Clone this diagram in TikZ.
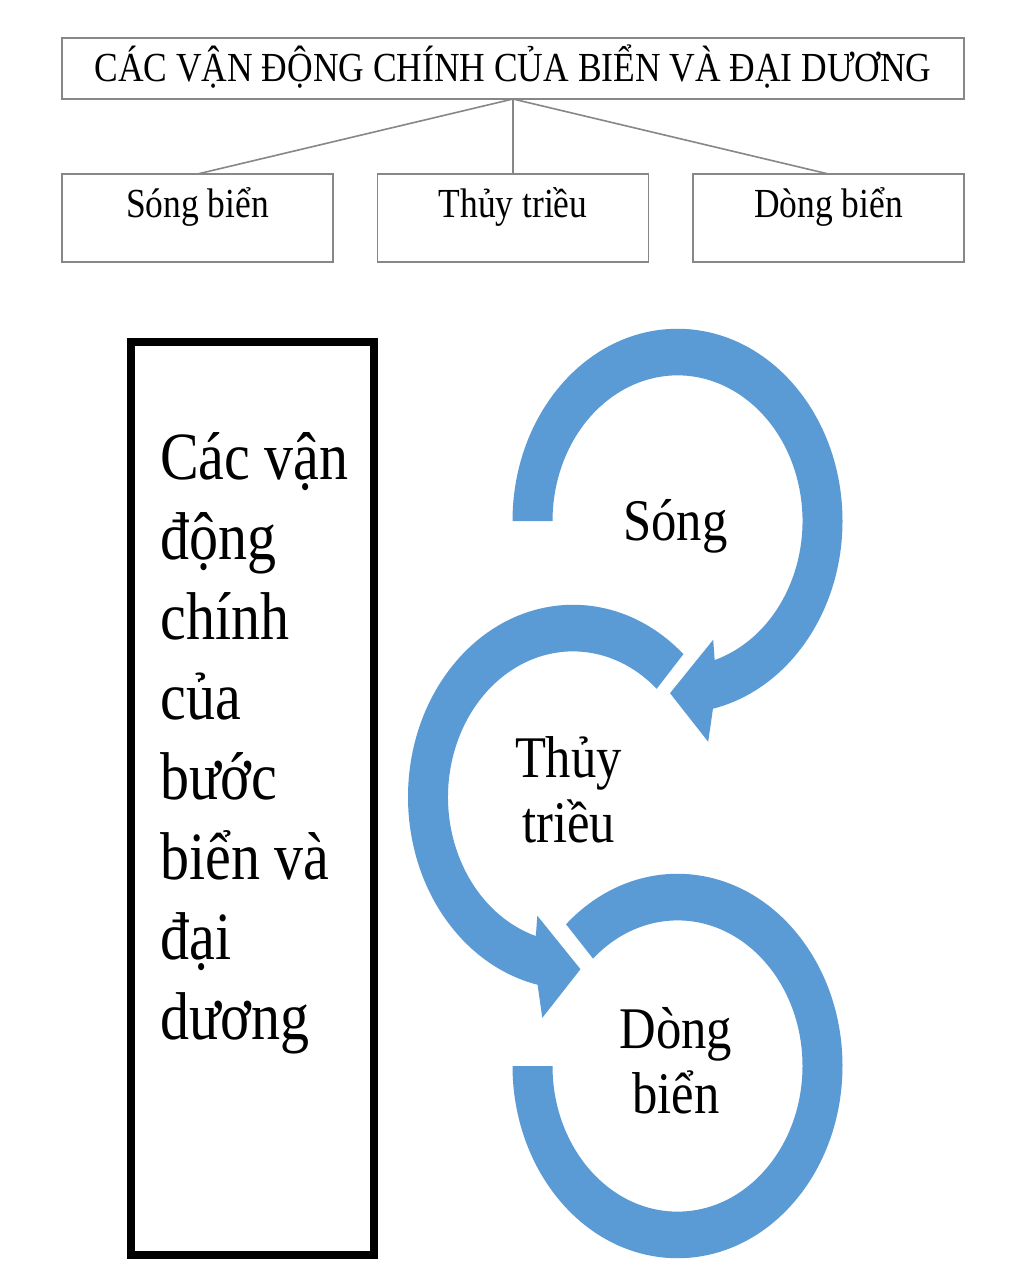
\documentclass[tikz,border=0pt]{standalone}
\usepackage{fontspec}
\setmainfont{Liberation Serif}
\usepackage{graphicx}
\definecolor{ringblue}{RGB}{91,155,213}
\definecolor{boxgray}{RGB}{135,135,135}
\newcommand{\mystretch}[1]{\scalebox{1}[1.165]{#1}}
\begin{document}
\begin{tikzpicture}[x=0.75pt,y=0.75pt,
  topbox/.style={draw=boxgray, line width=1.2pt, inner sep=0pt, outer sep=0pt,
    font=\fontsize{26.6pt}{30pt}\selectfont, text=black},
  titlebox/.style={topbox, minimum width=676.5pt, text height=33pt, text depth=12.75pt},
  childbox/.style={topbox, minimum width=203.25pt, text height=33pt, text depth=33pt},
  link/.style={draw=boxgray, line width=1.2pt},
  ring/.style={fill=ringblue},
  ringtext/.style={yscale=1.165, align=center, inner sep=0pt,
    font=\fontsize{38pt}{41.8pt}\selectfont},
  bigtext/.style={yscale=1.165, align=left, inner sep=0pt,
    font=\fontsize{43.5pt}{51.5pt}\selectfont}]
\useasboundingbox (0,0) rectangle (1024,-1280);
\fill[white] (0,0) rectangle (1024,-1280);

% top hierarchy
\node[titlebox] (title) at (513,-68.5) {\mystretch{CÁC VẬN ĐỘNG CHÍNH CỦA BIỂN VÀ ĐẠI DƯƠNG}};
\node[childbox] (c1) at (197.5,-218) {\mystretch{Sóng biển}};
\node[childbox] (c2) at (513,-218) {\mystretch{Thủy triều}};
\node[childbox] (c3) at (828.5,-218) {\mystretch{Dòng biển}};
\draw[link] (title.south) -- (c1.north);
\draw[link] (title.south) -- (c2.north);
\draw[link] (title.south) -- (c3.north);

% left box
\node[draw=black, line width=6pt, minimum width=182.25pt, minimum height=684.75pt, inner sep=0pt] (leftbox) at (252.5,-798.5) {};
\node[bigtext, anchor=base west] (lefttext) at (160,-1039)
  {Các vận\\động\\chính\\của\\bước\\biển và\\đại\\dương};

% circular arrows
\begin{scope}[shift={(677.5,-521)}, yscale=1.165]
  \fill[ring] (180:165) arc[start angle=180, end angle=-77.6, radius=165]
    -- (-80.8:192) -- (-92.9:148) -- (-70.7:108) -- (-72.7:125)
    arc[start angle=-72.7, end angle=180, radius=125] -- cycle;
\end{scope}
\begin{scope}[shift={(573,-797)}, yscale=1.165]
  \fill[ring] (48:165) arc[start angle=48, end angle=257.6, radius=165]
    -- (260.8:192) -- (272.9:148) -- (250.7:108) -- (252.7:125)
    arc[start angle=252.7, end angle=48, radius=125] -- cycle;
\end{scope}
\begin{scope}[shift={(677.5,-1066)}, yscale=1.165]
  \fill[ring] (132.5:165) arc[start angle=132.5, end angle=-180, radius=165]
    -- (180:125) arc[start angle=-180, end angle=132.5, radius=125] -- cycle;
\end{scope}

\node[ringtext, anchor=base] (song) at (675.5,-540) {Sóng};
\node[ringtext, anchor=base] (thuy) at (568.5,-842) {Thủy\\triều};
\node[ringtext, anchor=base] (dong) at (676,-1113) {Dòng\\biển};
\end{tikzpicture}
\end{document}
